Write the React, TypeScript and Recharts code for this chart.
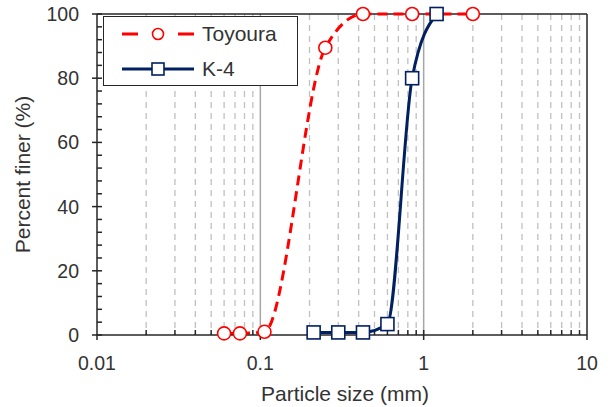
import React from 'react';
import { LineChart, Line, XAxis, YAxis, ReferenceLine, Legend } from 'recharts';

// grain size distribution, sizes in mm, percent finer in %
const toyouraSize = [0.06, 0.075, 0.106, 0.25, 0.425, 0.85, 2.0];
const toyouraFiner = [0.5, 0.5, 1, 89.5, 100, 100, 100];
const k4Size = [0.212, 0.3, 0.425, 0.6, 0.85, 1.2];
const k4Finer = [0.8, 0.8, 0.8, 3.4, 80, 100];

const legendOrder = ['Toyoura', 'K-4'];

const xTicks = [0.01, 0.1, 1, 10];
const xMajorGrid = [0.1, 1];
const xMinorGrid = [
  0.02, 0.03, 0.04, 0.05, 0.06, 0.07, 0.08, 0.09,
  0.2, 0.3, 0.4, 0.5, 0.6, 0.7, 0.8, 0.9,
  2, 3, 4, 5, 6, 7, 8, 9,
];
const yTicks = [0, 20, 40, 60, 80, 100];
const yMinorTicks = [
  4, 8, 12, 16, 24, 28, 32, 36, 44, 48, 52, 56, 64, 68, 72, 76, 84, 88, 92, 96,
];

const toyouraData = toyouraSize.map((s, i) => ({ size: s, finer: toyouraFiner[i] }));
const k4Data = k4Size.map((s, i) => ({ size: s, finer: k4Finer[i] }));

const FONT = '"Liberation Sans", Arial, sans-serif';
const INK = '#262626';
const TEXT = '#333333';
const RED = '#FF0000';
const NAVY = '#002060';

const vLine = (stroke: string, dash: string | undefined, width: number) => (p: any) => {
  const top = Math.min(p.y1, p.y2);
  const bottom = Math.max(p.y1, p.y2);
  return (
    <g>
      <line x1={p.x1} x2={p.x1} y1={top} y2={bottom} stroke={stroke} strokeWidth={width} strokeDasharray={dash} />
      <line x1={p.x1} x2={p.x1} y1={bottom} y2={bottom - 5} stroke={INK} strokeWidth={1.5} />
    </g>
  );
};

const yInTick = (p: any) => {
  const left = Math.min(p.x1, p.x2);
  return <line x1={left} x2={left + 5} y1={p.y1} y2={p.y1} stroke={INK} strokeWidth={1.5} />;
};

const CircleDot = (p: any) => (
  <circle key={`c${p.index}`} cx={p.cx} cy={p.cy} r={6.5} fill="#fff" stroke={RED} strokeWidth={1.6} />
);
const SquareDot = (p: any) => (
  <rect key={`s${p.index}`} x={p.cx - 6.5} y={p.cy - 6.5} width={13} height={13} fill="#fff" stroke={NAVY} strokeWidth={1.6} />
);

const YTitle = ({ viewBox }: any) => {
  const x = viewBox.x + 22;
  const y = viewBox.y + viewBox.height / 2;
  return (
    <text x={x} y={y} transform={`rotate(-90, ${x}, ${y})`} textAnchor="middle" dominantBaseline="central" fontFamily={FONT} fontSize={21} fill={TEXT}>
      Percent finer (%)
    </text>
  );
};

const XTitle = ({ viewBox }: any) => (
  <text x={viewBox.x + viewBox.width / 2 + 3} y={viewBox.y + 66} textAnchor="middle" fontFamily={FONT} fontSize={21} fill={TEXT}>
    Particle size (mm)
  </text>
);

const LegendBox = ({ payload }: any) => {
  const items = [...(payload || [])].sort((a: any, b: any) => legendOrder.indexOf(a.value) - legendOrder.indexOf(b.value));
  return (
    <div style={{ width: 195, height: 70, boxSizing: 'border-box', border: `1.5px solid ${INK}`, background: '#fff' }}>
      {items.map((e: any, i: number) => {
        const isK4 = e.value === 'K-4';
        return (
          <div key={i} style={{ display: 'flex', alignItems: 'center', height: 34, marginTop: i === 0 ? 0 : 1 }}>
            <svg width={96} height={20} style={{ marginLeft: 18 }}>
              <line x1={0} x2={72} y1={10} y2={10} stroke={e.color} strokeWidth={3} strokeDasharray={isK4 ? undefined : '16 40'} />
              {isK4 ? (
                <rect x={30} y={4} width={12} height={12} fill="#fff" stroke={NAVY} strokeWidth={1.6} />
              ) : (
                <circle cx={36} cy={10} r={5.5} fill="#fff" stroke={RED} strokeWidth={1.6} />
              )}
            </svg>
            <span style={{ fontFamily: FONT, fontSize: 21, color: TEXT, marginLeft: -16 }}>{e.value}</span>
          </div>
        );
      })}
    </div>
  );
};

export default function App() {
  return (
    <div style={{ position: 'absolute', left: 0, top: 0, width: 609, height: 407, background: '#fff' }}>
      <LineChart width={609} height={407} margin={{ top: 14, right: 22, bottom: 0, left: 0 }}>
        <XAxis
          dataKey="size"
          type="number"
          scale="log"
          domain={[0.01, 10]}
          ticks={xTicks}
          allowDataOverflow
          height={72}
          tickSize={5}
          tickMargin={16}
          axisLine={{ stroke: INK, strokeWidth: 1.5 }}
          tickLine={{ stroke: INK, strokeWidth: 1.5 }}
          tick={{ fontFamily: FONT, fontSize: 19.5, fill: TEXT }}
          label={<XTitle />}
        />
        <YAxis
          type="number"
          domain={[0, 100]}
          ticks={yTicks}
          width={97}
          tickSize={5}
          tickMargin={13}
          axisLine={{ stroke: INK, strokeWidth: 1.5 }}
          tickLine={{ stroke: INK, strokeWidth: 1.5 }}
          tick={{ fontFamily: FONT, fontSize: 19.5, fill: TEXT }}
          label={<YTitle />}
        />
        {xMinorGrid.map((v) => (
          <ReferenceLine key={`m${v}`} x={v} shape={vLine('#C0C0C0', '6 5', 1.3)} />
        ))}
        {xMajorGrid.map((v) => (
          <ReferenceLine key={`M${v}`} x={v} shape={vLine('#A6A6A6', undefined, 1.5)} />
        ))}
        {yMinorTicks.concat(yTicks).map((v) => (
          <ReferenceLine key={`y${v}`} y={v} shape={yInTick} />
        ))}
        <ReferenceLine y={100} stroke={INK} strokeWidth={1.5} />
        <ReferenceLine x={10} stroke={INK} strokeWidth={1.5} />
        <Line
          data={toyouraData}
          dataKey="finer"
          name="Toyoura"
          type="monotone"
          stroke={RED}
          strokeWidth={3}
          strokeDasharray="10 6"
          dot={CircleDot}
          activeDot={false}
          isAnimationActive={false}
        />
        <Line
          data={k4Data}
          dataKey="finer"
          name="K-4"
          type="monotone"
          stroke={NAVY}
          strokeWidth={3}
          dot={SquareDot}
          activeDot={false}
          isAnimationActive={false}
        />
        <Legend
          layout="vertical"
          align="center"
          verticalAlign="middle"
          content={LegendBox}
          wrapperStyle={{ left: 103, top: 16, width: 195, height: 70 }}
        />
      </LineChart>
    </div>
  );
}
